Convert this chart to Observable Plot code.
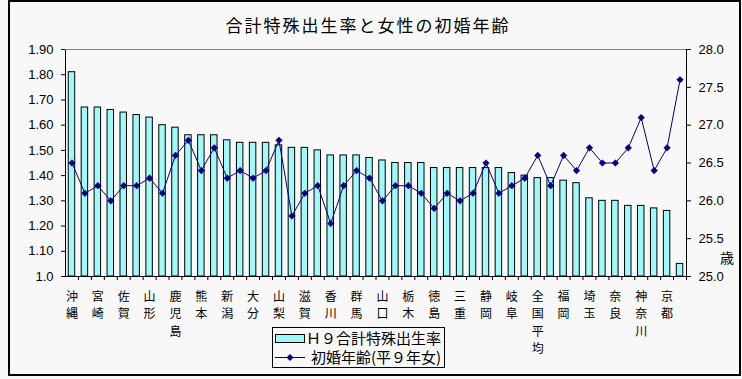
<!DOCTYPE html>
<html><head><meta charset="utf-8">
<script src="https://cdn.jsdelivr.net/npm/d3@7"></script>
<script src="https://cdn.jsdelivr.net/npm/@observablehq/plot@0.6"></script>
<style>
html,body{margin:0;padding:0;background:#f8f8f8;}
#wrap{position:relative;width:742px;height:379px;background:#f8f8f8;font-family:"Noto Sans CJK JP",sans-serif;color:#000;overflow:hidden;}
#border{position:absolute;left:8px;top:0;width:733px;height:376px;border:2px solid #000;box-sizing:border-box;pointer-events:none;}
#title{position:absolute;left:0;top:15px;width:736px;text-align:center;font-size:17px;line-height:20px;letter-spacing:2px;}
#chart{position:absolute;left:0;top:0;}
#unit{position:absolute;left:720px;top:249px;font-size:14px;line-height:16px;}
#legend{position:absolute;left:272px;top:327px;width:173px;height:41px;border:1px solid #000;box-sizing:border-box;font-size:15px;}
.row{position:absolute;left:1px;height:20px;line-height:20px;white-space:nowrap;}
.row svg{position:absolute;left:0;top:0;}
.row span{position:absolute;top:0;}
</style></head>
<body>
<div id="wrap">
  <div id="chart"></div>
  <div id="title">合計特殊出生率と女性の初婚年齢</div>
  <div id="unit">歳</div>
  <div id="legend">
    <div class="row" style="top:0px"><svg width="32" height="20"><rect x="1.5" y="6.5" width="29" height="8" fill="#a0f8f8" stroke="#000"/></svg><span style="left:32px">Ｈ９合計特殊出生率</span></div>
    <div class="row" style="top:19px"><svg width="36" height="20"><line x1="1" x2="31" y1="10.5" y2="10.5" stroke="#000080"/><path d="M16 7 L19.5 10.5 L16 14 L12.5 10.5 Z" fill="#000080"/></svg><span style="left:37px">初婚年齢(平９年女)</span></div>
  </div>
  <div id="border"></div>
</div>
<script>
const names = ["沖縄","福島","宮崎","島根","佐賀","鳥取","山形","長崎","鹿児島","福井","熊本","岩手","新潟","長野","大分","秋田","山梨","青森","滋賀","富山","香川","石川","群馬","愛媛","山口","茨城","栃木","岡山","徳島","和歌山","三重","愛知","静岡","広島","岐阜","高知","全国平均","兵庫","福岡","宮城","埼玉","大阪","奈良","千葉","神奈川","北海道","京都","東京"];
const tfr = [1.81,1.67,1.67,1.66,1.65,1.64,1.63,1.60,1.59,1.56,1.56,1.56,1.54,1.53,1.53,1.53,1.52,1.51,1.51,1.50,1.48,1.48,1.48,1.47,1.46,1.45,1.45,1.45,1.43,1.43,1.43,1.43,1.43,1.43,1.41,1.40,1.39,1.39,1.38,1.37,1.31,1.30,1.30,1.28,1.28,1.27,1.26,1.05];
const age = [26.5,26.1,26.2,26.0,26.2,26.2,26.3,26.1,26.6,26.8,26.4,26.7,26.3,26.4,26.3,26.4,26.8,25.8,26.1,26.2,25.7,26.2,26.4,26.3,26.0,26.2,26.2,26.1,25.9,26.1,26.0,26.1,26.5,26.1,26.2,26.3,26.6,26.2,26.6,26.4,26.7,26.5,26.5,26.7,27.1,26.4,26.7,27.6];
const leftTicks = [1.0,1.1,1.2,1.3,1.4,1.5,1.6,1.7,1.8,1.9];
const leftLabels = ["1.0","1.10","1.20","1.30","1.40","1.50","1.60","1.70","1.80","1.90"];
const rightTicks = [25.0,25.5,26.0,26.5,27.0,27.5,28.0];
const rightLabels = ["25.0","25.5","26.0","26.5","27.0","27.5","28.0"];

const width = 742, height = 379, mL = 65, mR = 56, mT = 49, mB = 103;
const n = names.length;
const step = (width - mL - mR) / n;
const data = names.map((name, i) => ({name, tfr: tfr[i], age: age[i]}));
const yMin = leftTicks[0], yMax = leftTicks[leftTicks.length - 1];
const aMin = rightTicks[0], aMax = rightTicks[rightTicks.length - 1];
const toY = a => yMin + (a - aMin) * (yMax - yMin) / (aMax - aMin);
const rightPos = rightTicks.map(toY);

const chart = Plot.plot({
  width, height, marginLeft: mL, marginRight: mR, marginTop: mT, marginBottom: mB,
  style: {background: "transparent", fontFamily: "'Liberation Sans', Arial, sans-serif", fontSize: "13px", color: "#000"},
  x: {type: "band", domain: names, paddingInner: 0.5, paddingOuter: 0.25, axis: null},
  y: {domain: [yMin, yMax], axis: null},
  marks: [
    Plot.barY(data, {x: "name", y1: yMin, y2: "tfr", fill: "#a0f8f8", stroke: "#000", strokeWidth: 1}),
    Plot.frame({stroke: "#000"}),
    Plot.ruleY([yMax], {stroke: "#808080"}),
    Plot.line(data, {x: "name", y: d => toY(d.age), stroke: "#000080", strokeWidth: 1}),
    Plot.dot(data, {x: "name", y: d => toY(d.age), symbol: "diamond2", r: 3, fill: "#000080", stroke: "#000080", strokeWidth: 0.5}),
    Plot.axisY({anchor: "left", ticks: leftTicks, tickFormat: d => leftLabels[leftTicks.indexOf(d)], tickSize: 4, tickPadding: 8, label: null, fontSize: 13}),
    Plot.axisY({anchor: "right", ticks: rightPos, tickFormat: d => rightLabels[rightPos.indexOf(d)], tickSize: 4, tickPadding: 8, label: null, fontSize: 13}),
    Plot.axisX({anchor: "bottom", tickSize: 4, tickFormat: () => "", dx: step / 2, label: null}),
    Plot.axisX({anchor: "bottom", tickSize: 0, tickPadding: 12, label: null, fontSize: 12, lineHeight: 1.46,
      fontFamily: "'Noto Sans CJK JP', sans-serif",
      tickFormat: d => (names.indexOf(d) % 2 === 0 ? d.split("").join("\n") : "")})
  ]
});
document.getElementById("chart").appendChild(chart);
</script>
</body></html>
